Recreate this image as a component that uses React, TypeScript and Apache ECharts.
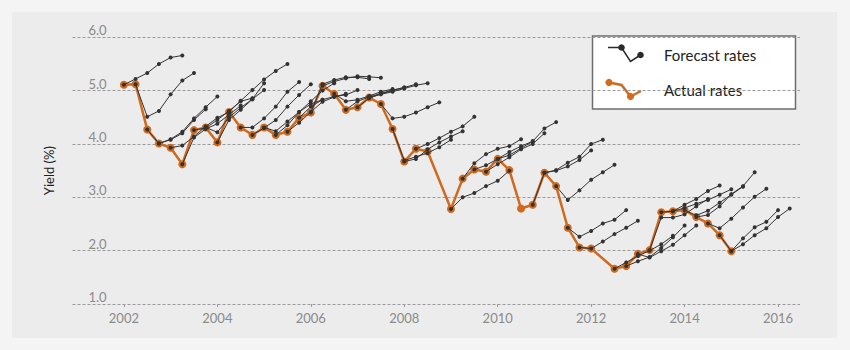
import React, { useEffect, useRef } from "react";
import * as echarts from "echarts";

// Actual quarterly yields (%)
const ACTUAL_YEARS = [
  2002.0, 2002.25, 2002.5, 2002.75, 2003.0, 2003.25, 2003.5, 2003.75,
  2004.0, 2004.25, 2004.5, 2004.75, 2005.0, 2005.25, 2005.5, 2005.75,
  2006.0, 2006.25, 2006.5, 2006.75, 2007.0, 2007.25, 2007.5, 2007.75,
  2008.0, 2008.25, 2008.5, 2009.0, 2009.25, 2009.5, 2009.75,
  2010.0, 2010.25, 2010.5, 2010.75, 2011.0, 2011.25, 2011.5, 2011.75,
  2012.0, 2012.5, 2012.75, 2013.0, 2013.25, 2013.5, 2013.75,
  2014.0, 2014.25, 2014.5, 2014.75, 2015.0,
];
const ACTUAL_RATES = [
  5.11, 5.12, 4.27, 4.01, 3.93, 3.62, 4.26, 4.31,
  4.03, 4.6, 4.31, 4.17, 4.31, 4.17, 4.23, 4.49,
  4.59, 5.09, 4.94, 4.64, 4.69, 4.87, 4.75, 4.28,
  3.67, 3.91, 3.86, 2.78, 3.35, 3.52, 3.48,
  3.72, 3.51, 2.79, 2.86, 3.46, 3.21, 2.43, 2.06,
  2.04, 1.66, 1.71, 1.94, 2.01, 2.72, 2.74,
  2.76, 2.63, 2.51, 2.29, 1.99,
];

// Forecast paths: start quarter, then quarterly values
const FORECAST_STARTS = [
  2002.0, 2002.25, 2002.5, 2002.75, 2003.0, 2003.25, 2003.5, 2003.75,
  2004.0, 2004.25, 2004.5, 2004.75, 2005.0, 2005.25, 2005.5, 2005.75,
  2006.0, 2006.25, 2006.5, 2006.75, 2007.0, 2007.25, 2007.5, 2007.75,
  2008.0, 2008.25, 2009.0, 2009.25, 2009.5, 2009.75, 2010.0,
  2010.75, 2011.0, 2011.25, 2011.5, 2011.75, 2012.5, 2012.75,
  2013.0, 2013.25, 2013.5, 2013.75, 2014.0, 2014.25, 2014.5, 2014.75, 2015.0,
];
const FORECAST_RATES = [
  [5.11, 5.22, 5.33, 5.5, 5.62, 5.66],
  [5.12, 4.51, 4.62, 4.93, 5.19, 5.33],
  [4.27, 4.01, 4.08, 4.2, 4.45, 4.65],
  [4.01, 4.09, 4.23, 4.48, 4.69, 4.89],
  [3.93, 3.97, 4.14, 4.33, 4.49, 4.6],
  [3.62, 4.12, 4.28, 4.38, 4.55, 4.72],
  [4.26, 4.3, 4.45, 4.62, 4.8, 4.86],
  [4.31, 4.22, 4.5, 4.68, 4.84, 5.01],
  [4.03, 4.45, 4.64, 4.84, 5.14],
  [4.6, 4.81, 5.01, 5.21, 5.37, 5.5],
  [4.31, 4.31, 4.48, 4.7, 4.98, 5.16],
  [4.17, 4.3, 4.45, 4.7, 4.92, 5.12],
  [4.31, 4.24, 4.42, 4.6, 4.75, 4.83],
  [4.17, 4.35, 4.6, 4.8, 5.0, 5.14],
  [4.23, 4.4, 4.6, 4.79, 4.88, 4.94],
  [4.49, 4.7, 4.83, 4.89, 4.92, 5.01],
  [4.59, 5.12, 5.2, 5.25, 5.25, 5.22],
  [5.09, 5.17, 5.23, 5.27, 5.26, 5.24],
  [4.94, 4.8, 4.83, 4.9, 4.98, 5.03],
  [4.64, 4.8, 4.88, 4.95, 5.01, 5.06],
  [4.69, 4.86, 4.94, 5.0, 5.06, 5.12],
  [4.87, 4.93, 4.98, 5.04, 5.1, 5.14],
  [4.75, 4.48, 4.51, 4.59, 4.69, 4.78],
  [4.28, 3.69, 3.76, 3.83, 3.94, 4.08],
  [3.67, 3.72, 3.9, 4.03, 4.14, 4.24],
  [3.91, 4.0, 4.11, 4.23, 4.33, 4.51],
  [2.78, 3.0, 3.08, 3.21, 3.31, 3.5],
  [3.35, 3.64, 3.81, 3.91, 3.96, 4.09],
  [3.52, 3.6, 3.72, 3.85, 3.96, 4.05],
  [3.48, 3.62, 3.75, 3.9, 4.0, 4.2],
  [3.72, 3.79, 3.92, 4.05, 4.29, 4.41],
  [2.86, 3.46, 3.5, 3.58, 3.7, 3.88],
  [3.46, 3.51, 3.65, 3.76, 4.0, 4.08],
  [3.21, 2.95, 3.13, 3.33, 3.47, 3.61],
  [2.43, 2.26, 2.37, 2.51, 2.58, 2.76],
  [2.06, 2.04, 2.17, 2.31, 2.43, 2.56],
  [1.66, 1.78, 1.9, 2.0, 2.12, 2.28],
  [1.71, 1.8, 1.88, 2.05, 2.25, 2.47],
  [1.94, 1.87, 1.99, 2.11, 2.29, 2.47],
  [2.01, 2.62, 2.62, 2.68, 2.83, 2.97],
  [2.72, 2.74, 2.86, 2.97, 3.12, 3.22],
  [2.74, 2.8, 2.88, 2.95, 3.05, 3.15],
  [2.76, 2.66, 2.75, 2.9, 3.05, 3.2],
  [2.63, 2.67, 2.83, 3.06, 3.21, 3.47],
  [2.51, 2.42, 2.6, 2.81, 3.01, 3.16],
  [2.29, 1.99, 2.23, 2.44, 2.54, 2.76],
  [1.99, 2.12, 2.29, 2.42, 2.63, 2.79],
];

const X_TICKS = [2002, 2004, 2006, 2008, 2010, 2012, 2014, 2016];

const ORANGE = "#cf6a1f";
const DARK = "#333333";
const FONT = "Lato, 'Open Sans', sans-serif";

export default function App() {
  const ref = useRef<HTMLDivElement>(null);

  useEffect(() => {
    document.body.style.margin = "0";
    const chart = echarts.init(ref.current!, null, { renderer: "svg" });

    const forecastSeries = FORECAST_STARTS.map((start, i) => ({
      type: "line",
      name: "Forecast rates",
      data: FORECAST_RATES[i].map((v, j) => [start + j * 0.25, v]),
      symbol: "circle",
      symbolSize: 4,
      showSymbol: true,
      lineStyle: { color: DARK, width: 1 },
      itemStyle: { color: DARK },
      z: 4,
      silent: true,
    }));

    const actualSeries = {
      type: "line",
      name: "Actual rates",
      data: ACTUAL_YEARS.map((y, i) => [y, ACTUAL_RATES[i]]),
      symbol: "circle",
      symbolSize: 8,
      lineStyle: { color: ORANGE, width: 2.5 },
      itemStyle: { color: ORANGE },
      z: 3,
      silent: true,
    };

    chart.setOption({
      animation: false,
      backgroundColor: "#f4f4f4",
      textStyle: { fontFamily: FONT },
      grid: { left: 72.5, right: 50, top: 37.3, bottom: 46, containLabel: false },
      xAxis: {
        type: "value",
        min: 2000.9,
        max: 2016.47,
        axisLine: { show: false },
        splitLine: { show: false },
        axisTick: {
          show: true,
          customValues: X_TICKS,
          length: 3,
          lineStyle: { color: "#9a9a9a", width: 1 },
        },
        axisLabel: {
          customValues: X_TICKS,
          formatter: (v: number) => String(Math.round(v)),
          color: "#8a8a8a",
          fontSize: 13,
          fontFamily: FONT,
          margin: 7,
        },
      },
      yAxis: {
        type: "value",
        min: 1,
        max: 6,
        interval: 1,
        name: "Yield (%)",
        nameLocation: "middle",
        nameGap: 17,
        nameTextStyle: { color: "#1e1e1e", fontSize: 13, fontFamily: FONT },
        axisLine: { show: false },
        axisTick: { show: false },
        axisLabel: {
          formatter: (v: number) => v.toFixed(1),
          color: "#8a8a8a",
          fontSize: 13,
          fontFamily: FONT,
          align: "left",
          verticalAlign: "bottom",
          margin: -16,
          lineHeight: 14,
        },
        splitLine: {
          show: true,
          lineStyle: { color: "#9a9a9a", width: 1, type: [3, 2] },
        },
      },
      graphic: [
        {
          type: "rect",
          z: -10,
          silent: true,
          shape: { x: 12, y: 12, width: 825, height: 326 },
          style: { fill: "#ececec" },
        },
        {
          type: "group",
          z: 100,
          silent: true,
          children: [
            {
              type: "rect",
              shape: { x: 592.5, y: 36, width: 203, height: 73 },
              style: { fill: "#ffffff", stroke: "#6e6e6e", lineWidth: 1.5 },
            },
            {
              type: "polyline",
              shape: { points: [[608, 47.5], [621.5, 47.5], [630.5, 61.5], [640.5, 55]] },
              style: { stroke: "#2a2a2a", lineWidth: 1.5, fill: null },
            },
            { type: "circle", shape: { cx: 621.5, cy: 47.5, r: 3.3 }, style: { fill: "#2a2a2a" } },
            { type: "circle", shape: { cx: 640.5, cy: 55, r: 3.3 }, style: { fill: "#2a2a2a" } },
            {
              type: "polyline",
              shape: { points: [[609, 82.5], [621.5, 85], [630.5, 96.5], [641, 91]] },
              style: { stroke: ORANGE, lineWidth: 2.5, fill: null },
            },
            { type: "circle", shape: { cx: 609, cy: 82.5, r: 3.6 }, style: { fill: ORANGE } },
            { type: "circle", shape: { cx: 630.5, cy: 96.5, r: 3.6 }, style: { fill: ORANGE } },
            {
              type: "text",
              x: 664,
              y: 55,
              style: {
                text: "Forecast rates",
                fill: "#222",
                fontSize: 15,
                fontFamily: FONT,
                verticalAlign: "middle",
                align: "left",
              },
            },
            {
              type: "text",
              x: 664,
              y: 90,
              style: {
                text: "Actual rates",
                fill: "#222",
                fontSize: 15,
                fontFamily: FONT,
                verticalAlign: "middle",
                align: "left",
              },
            },
          ],
        },
      ],
      series: [actualSeries, ...forecastSeries],
    });

    return () => chart.dispose();
  }, []);

  return <div ref={ref} style={{ width: 850, height: 350 }} />;
}
